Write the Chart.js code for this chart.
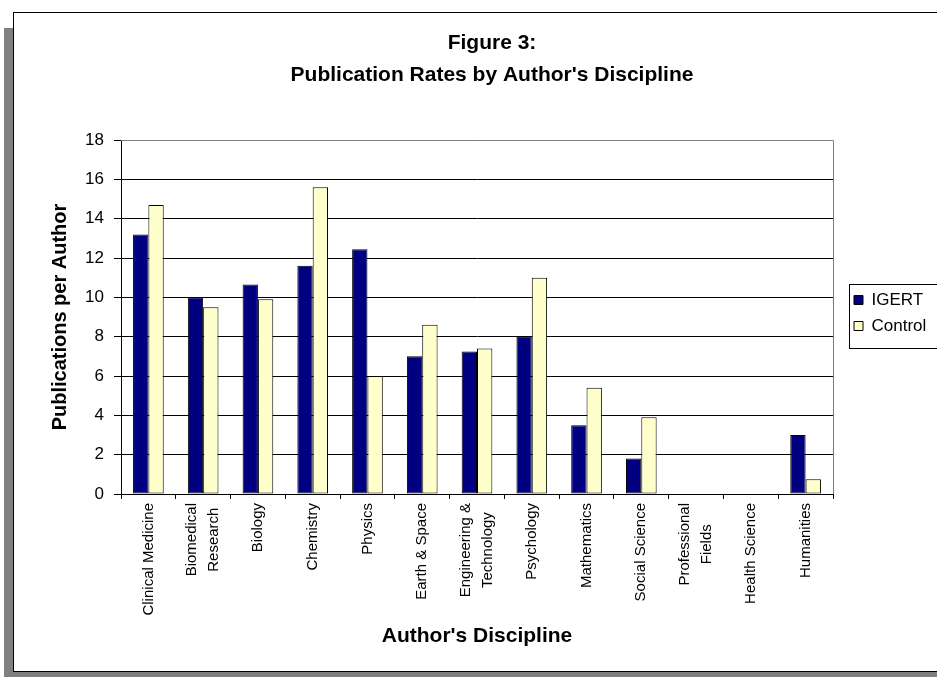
<!DOCTYPE html>
<html>
<head>
<meta charset="utf-8">
<title>Figure 3: Publication Rates by Author's Discipline</title>
<script src="https://cdn.jsdelivr.net/npm/chart.js@4.4.0/dist/chart.umd.min.js"></script>
<style>
  html, body { margin: 0; padding: 0; background: #fff; overflow: hidden; }
  #shadow { position: absolute; left: 4px; top: 28px; width: 1000px; height: 700px; background: #808080; }
  #frame { position: absolute; left: 13px; top: 12px; width: 990px; height: 658px; border: 1px solid #000; background: #fff; }
  #frame canvas { position: absolute; left: 0; top: 0; }
</style>
</head>
<body>
<div id="shadow"></div>
<div id="frame"><canvas id="pubChart" width="956" height="658"></canvas></div>
<script>
const disciplines = [
  'Clinical Medicine', ['Biomedical', 'Research'], 'Biology', 'Chemistry', 'Physics',
  'Earth & Space', ['Engineering &', 'Technology'], 'Psychology', 'Mathematics',
  'Social Science', ['Professional', 'Fields'], 'Health Science', 'Humanities'
];
const igertRates   = [13.2, 10.0, 10.65, 11.6, 12.45, 7.0, 7.25, 8.0, 3.5, 1.8, 0, 0, 3.0];
const controlRates = [14.7, 9.5, 9.9, 15.6, 6.0, 8.6, 7.4, 11.0, 5.4, 3.9, 0, 0, 0.75];
const yMin = 0, yMax = 18, yStep = 2;

const FONT = "'Liberation Sans', Arial, sans-serif";

// gray plot-area edge on the right, like the old spreadsheet charts
const plotEdge = {
  id: 'plotEdge',
  beforeDatasetsDraw(chart) {
    const { ctx, chartArea: a } = chart;
    const r = Math.round(a.right) + 0.5;
    ctx.save();
    ctx.strokeStyle = '#808080';
    ctx.lineWidth = 1;
    ctx.beginPath();
    ctx.moveTo(a.left, a.top + 0.5);
    ctx.lineTo(r, a.top + 0.5);
    ctx.lineTo(r, a.bottom);
    ctx.stroke();
    ctx.restore();
  }
};

// category names, read bottom-to-top, hanging from the axis; wrapped names stay centred
const categoryLabels = {
  id: 'categoryLabels',
  afterDraw(chart) {
    const { ctx } = chart;
    const x = chart.scales.x;
    const lineGap = 22;
    ctx.save();
    ctx.font = '15px ' + FONT;
    ctx.fillStyle = '#000';
    ctx.textAlign = 'center';
    ctx.textBaseline = 'middle';
    disciplines.forEach((name, i) => {
      const lines = Array.isArray(name) ? name : [name];
      const longest = Math.max(...lines.map(s => ctx.measureText(s).width));
      const cx = x.getPixelForTick(i);
      const cy = x.top + 9 + longest / 2;
      lines.forEach((s, j) => {
        ctx.save();
        ctx.translate(cx + (j - (lines.length - 1) / 2) * lineGap, cy);
        ctx.rotate(-Math.PI / 2);
        ctx.fillText(s, 0, 0);
        ctx.restore();
      });
    });
    ctx.restore();
  }
};

// put the legend just right of the plot and box it in
const legendBox = {
  id: 'legendBox',
  afterLayout(chart) {
    const lg = chart.legend, a = chart.chartArea;
    const mid = (a.top + a.bottom) / 2;
    lg.left = a.right + 12;
    lg.right = lg.left + lg.width;
    lg.top = mid - 36;
    lg.bottom = mid + 28;
    lg.height = 64;
  },
  afterDraw(chart) {
    const { ctx, chartArea: a } = chart;
    const mid = (a.top + a.bottom) / 2;
    ctx.save();
    ctx.strokeStyle = '#000';
    ctx.lineWidth = 1;
    ctx.strokeRect(Math.round(a.right) + 16.5, Math.round(mid) - 32.5, 130, 64);
    ctx.restore();
  }
};

new Chart(document.getElementById('pubChart'), {
  type: 'bar',
  data: {
    labels: disciplines,
    datasets: [
      {
        label: 'IGERT',
        data: igertRates,
        backgroundColor: '#000080',
        borderColor: '#000',
        borderWidth: c => (c.raw ? 1 : 0),
        borderSkipped: false
      },
      {
        label: 'Control',
        data: controlRates,
        backgroundColor: '#FFFFCC',
        borderColor: '#000',
        borderWidth: c => (c.raw ? 1 : 0),
        borderSkipped: false
      }
    ]
  },
  options: {
    responsive: false,
    animation: false,
    categoryPercentage: 0.56,
    barPercentage: 1.0,
    layout: { padding: 0 },
    plugins: {
      title: {
        display: true,
        text: ['Figure 3:', "Publication Rates by Author's Discipline"],
        color: '#000',
        font: { family: FONT, size: 21, weight: 'bold', lineHeight: 32 / 21 },
        padding: { top: 14, bottom: 49 }
      },
      legend: {
        position: 'chartArea',
        labels: {
          color: '#000',
          font: { family: FONT, size: 17 },
          boxWidth: 9,
          boxHeight: 9,
          padding: 9
        }
      },
      tooltip: { enabled: false }
    },
    scales: {
      x: {
        grid: {
          offset: true,
          drawOnChartArea: false,
          color: '#000',
          tickLength: 5
        },
        border: { color: '#000', width: 1 },
        ticks: { display: false },
        title: {
          display: true,
          text: "Author's Discipline",
          color: '#000',
          font: { family: FONT, size: 21, weight: 'bold' },
          padding: { top: 0, bottom: 22 }
        },
        afterFit(scale) { scale.height = 177; }
      },
      y: {
        min: yMin,
        max: yMax,
        grid: {
          color: c => (c.tick && c.tick.value === yMax ? '#808080' : '#000'),
          tickColor: '#000',
          tickLength: 7
        },
        border: { color: '#000', width: 1 },
        ticks: {
          stepSize: yStep,
          color: '#000',
          font: { family: FONT, size: 17 },
          padding: 10
        },
        title: {
          display: true,
          text: 'Publications per Author',
          color: '#000',
          font: { family: FONT, size: 20, weight: 'bold' },
          padding: { top: 34, bottom: 0 }
        },
        afterFit(scale) { scale.width = 107; }
      },
      // empty right-hand axis that only holds room for the legend
      legendRoom: {
        type: 'linear',
        position: 'right',
        grid: { display: false, drawTicks: false },
        border: { display: false },
        ticks: { display: false },
        afterFit(scale) { scale.width = 137; }
      }
    }
  },
  plugins: [plotEdge, categoryLabels, legendBox]
});
</script>
</body>
</html>
